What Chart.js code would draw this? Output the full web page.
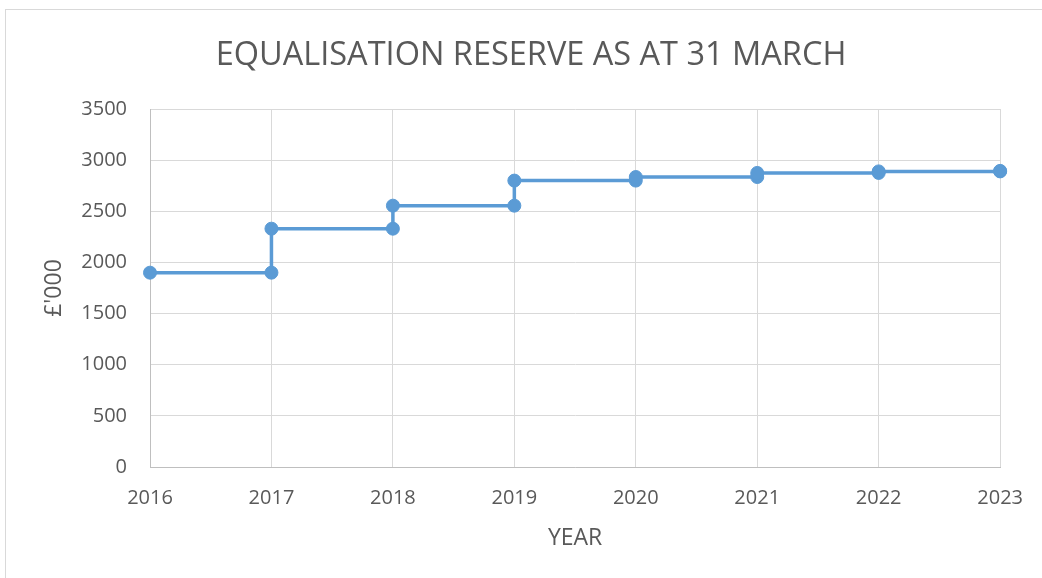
<!DOCTYPE html>
<html>
<head>
<meta charset="utf-8">
<script src="https://cdn.jsdelivr.net/npm/chart.js@4"></script>
<style>
  body { margin: 0; background: #fff; overflow: hidden; }
  #wrap { position: relative; width: 1042px; height: 578px; }
  #frame { position: absolute; left: 5px; top: 9px; width: 1100px; height: 600px; border: 1px solid #d9d9d9; }
  canvas { position: absolute; left: 0; top: 0; }
</style>
</head>
<body>
<div id="wrap">
  <div id="frame"></div>
  <canvas id="reserve-chart" width="1042" height="578"></canvas>
</div>
<script>
// each year appears twice where the reserve steps: opening then closing value
const years   = [2016, 2017, 2017, 2018, 2018, 2019, 2019, 2020, 2020, 2021, 2021, 2022, 2022, 2023, 2023];
const reserve = [1900, 1900, 2330, 2330, 2555, 2555, 2800, 2800, 2835, 2835, 2875, 2875, 2890, 2890, 2895];

const titleText  = 'EQUALISATION RESERVE AS AT 31 MARCH';
const xAxisTitle = 'YEAR';
const yAxisTitle = '£\'000';

const textGrey = '#595959';
const blue     = '#5b9bd5';
const fontFam  = '"Open Sans", sans-serif';

const points = years.map((x, i) => ({ x, y: reserve[i] }));

new Chart(document.getElementById('reserve-chart'), {
    type: 'scatter',
    data: {
        datasets: [{
            label: 'Reserve',
            data: points,
            showLine: true,
            clip: false,
            borderColor: blue,
            backgroundColor: blue,
            borderWidth: 3.5,
            pointRadius: 6.5,
            pointBorderWidth: 1,
            pointBorderColor: blue,
            pointBackgroundColor: blue,
        }],
    },
    options: {
        responsive: false,
        animation: false,
        // left/right padding keeps the title centred where the original has it
        layout: { padding: { left: 61, right: 41, top: 0, bottom: 0 } },
        scales: {
            x: {
                type: 'linear',
                min: 2016,
                max: 2023,
                ticks: {
                    stepSize: 1,
                    padding: 19,
                    color: textGrey,
                    font: { family: fontFam, size: 20 },
                    callback: v => String(v),
                },
                grid: { color: '#d9d9d9', drawTicks: false },
                border: { color: '#bfbfbf', width: 1 },
                title: {
                    display: true,
                    text: xAxisTitle,
                    color: textGrey,
                    font: { family: fontFam, size: 23 },
                    padding: { top: 0, bottom: 26 },
                },
                afterFit: scale => { scale.height = 111; },
            },
            y: {
                min: 0,
                max: 3500,
                ticks: {
                    stepSize: 500,
                    padding: 23,
                    color: textGrey,
                    font: { family: fontFam, size: 20 },
                    callback: v => String(v),
                },
                grid: { color: '#d9d9d9', drawTicks: false },
                border: { color: '#bfbfbf', width: 1 },
                title: {
                    display: true,
                    text: yAxisTitle,
                    color: textGrey,
                    font: { family: fontFam, size: 23 },
                    padding: { top: -20, bottom: 0 },
                },
                afterFit: scale => { scale.width = 89; },
            },
        },
        plugins: {
            legend: { display: false },
            tooltip: { enabled: false },
            title: {
                display: true,
                text: titleText,
                color: textGrey,
                font: { family: fontFam, size: 32.5, weight: 'normal' },
                padding: { top: 36, bottom: 34 },
            },
        },
    },
});
</script>
</body>
</html>
